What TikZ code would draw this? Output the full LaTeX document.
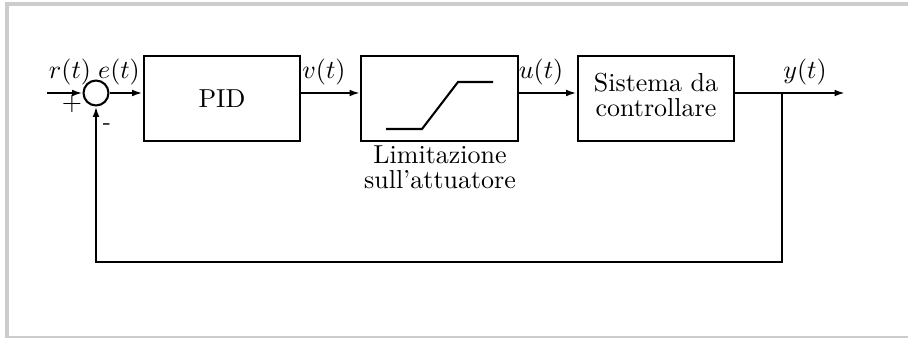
\documentclass[tikz,border=0pt]{standalone}
\usetikzlibrary{arrows.meta}
\begin{document}
\begin{tikzpicture}[x=0.385pt,y=-0.385pt,
  line width=0.75pt,
  blockbox/.style={draw, line width=0.8pt, minimum width=60.4pt, minimum height=32.7pt, inner sep=0pt},
  sumnode/.style={draw, circle, minimum size=9.6pt, inner sep=0pt, line width=0.8pt},
  sig/.style={-{Latex[length=4pt,width=2.6pt]}},
  lbl/.style={anchor=base, inner sep=0pt},
  framecol/.style={fill=black!20, draw=none}]
\useasboundingbox (0,0) rectangle (908,338);
% grey frame
\fill[framecol] (5,2) rectangle (908,6);
\fill[framecol] (5,2) rectangle (9,338);
\fill[framecol] (5,336) rectangle (908,338);
% nodes
\coordinate (in) at (47,93);
\node[sumnode] (sum) at (96,93) {};
\node[blockbox] (pid) at (222,98.5) {PID};
\node[blockbox] (lim) at (439.5,98.5) {};
\node[blockbox] (sys) at (656,98.5) {\fontsize{10}{9.6}\selectfont\begin{tabular}{@{}c@{}}Sistema da\\controllare\end{tabular}};
\coordinate (branch) at (782,93);
\coordinate (out) at (845,93);
\coordinate (fbR) at (782,262);
\coordinate (fbL) at (96,262);
% saturation curve
\draw[line width=0.8pt] (386,129) -- (422,129) -- (458,82) -- (493,82);
% label under limiter
\node[inner sep=0pt, align=center, font=\fontsize{10}{9.6}\selectfont] (limlbl) at (440,167) {Limitazione\\sull'attuatore};
% connectors
\draw[sig] (in) -- (sum.west);
\draw[sig] (sum.east) -- (sum.east -| pid.west);
\draw[sig] (sum -| pid.east) -- (sum -| lim.west);
\draw[sig] (sum -| lim.east) -- (sum -| sys.west);
\draw[sig] (sum -| sys.east) -- (out);
\draw[sig] (branch) -- (fbR) -- (fbL) -- (sum.south);
% signal labels
\node[lbl] (rl) at (70,79) {$r(t)$};
\node[lbl] (el) at (119,79) {$e(t)$};
\node[lbl] (vl) at (324,79) {$v(t)$};
\node[lbl] (ul) at (541,79) {$u(t)$};
\node[lbl] (yl) at (805,79) {$y(t)$};
\node[inner sep=0pt] (plus) at (72,104) {$+$};
\node[inner sep=0pt] (minus) at (107,127) {\small -};
\end{tikzpicture}
\end{document}
